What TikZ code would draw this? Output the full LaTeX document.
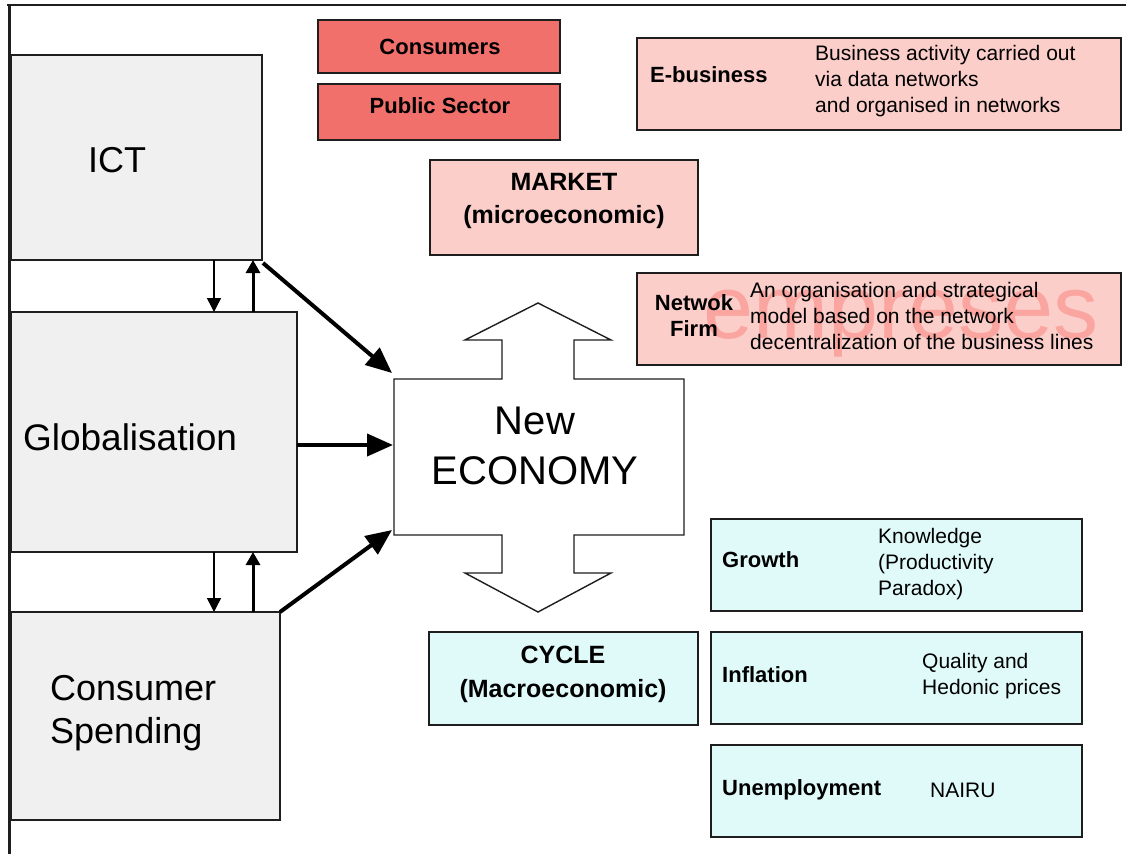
\documentclass[tikz,border=0pt]{standalone}
\usepackage{fontspec}
\setmainfont{Liberation Sans}
\usetikzlibrary{arrows.meta}
\definecolor{linec}{RGB}{30,30,30}
\definecolor{redfill}{RGB}{242,112,108}
\definecolor{pinkfill}{RGB}{251,206,202}
\definecolor{bluefill}{RGB}{224,250,250}
\definecolor{grayfill}{RGB}{240,240,240}
\definecolor{wmark}{RGB}{250,165,160}
\begin{document}
\begin{tikzpicture}[x=1pt,y=-1pt,
  box/.style={draw=linec, line width=1.4pt, inner sep=0pt, outer sep=0pt},
  bigtxt/.style={font=\fontsize{36}{43}\selectfont, inner sep=0pt, align=left},
  lab/.style={font=\fontsize{22}{26}\selectfont\bfseries, inner sep=0pt},
  midtxt/.style={font=\fontsize{25}{33}\selectfont\bfseries, inner sep=0pt, align=center},
  desc/.style={font=\fontsize{21}{26}\selectfont, inner sep=0pt, align=left},
  fat/.style={line width=4pt, -{Triangle[length=26pt,width=22pt]}},
  thinar/.style={line width=1.5pt, -{Triangle[length=14pt,width=14pt]}},
  upar/.style={line width=3pt, -{Triangle[length=13pt,width=14pt]}}
]
\useasboundingbox (0,0) rectangle (1126,854);
\fill[white] (0,0) rectangle (1126,854);
% frame
\draw[linec, line width=1.5pt] (7,5) -- (1126,5);
\draw[linec, line width=3pt] (9,4) -- (9,854);

% left column
\node[box, fill=grayfill, minimum width=251pt, minimum height=205pt] (ict) at (136.5,157.5) {};
\node[box, fill=grayfill, minimum width=286pt, minimum height=240pt] (glob) at (154,432) {};
\node[box, fill=grayfill, minimum width=269pt, minimum height=208pt] (cons) at (145.5,716) {};
\node[bigtxt] (ictt) at (117,160) {ICT};
\node[bigtxt, font=\fontsize{37}{43}\selectfont] (globt) at (130,437) {Globalisation};
\node[bigtxt, anchor=west] (const) at (50,713) {Consumer\\Spending};

% top red boxes
\node[box, fill=redfill, minimum width=242pt, minimum height=53pt] (consumers) at (439,46.5) {};
\node[box, fill=redfill, minimum width=242pt, minimum height=56pt] (public) at (439,112) {};
\node[lab] (consumerst) at (440,47) {Consumers};
\node[lab] (publict) at (440,106) {Public Sector};

% E-business
\node[box, fill=pinkfill, minimum width=484pt, minimum height=92pt] (ebiz) at (879,84) {};
\node[lab, anchor=west] (ebizt) at (650,75) {E-business};
\node[desc, anchor=west] (ebizd) at (815,81) {Business activity carried out\\via data networks\\and organised in networks};

% Market
\node[box, fill=pinkfill, minimum width=268pt, minimum height=95pt] (market) at (564,207.5) {};
\node[midtxt] (markett) at (564,201) {MARKET\\(microeconomic)};

% Network firm
\node[box, fill=pinkfill, minimum width=484pt, minimum height=92pt] (netf) at (879,319) {};
\node[font=\fontsize{90}{90}\selectfont, text=wmark, inner sep=0pt, anchor=base west] (wm) at (703,338) {empreses};
\node[lab, align=center] (netft) at (694,316) {Netwok\\Firm};
\node[desc, anchor=west] (netfd) at (750,316) {An organisation and strategical\\model based on the network\\decentralization of the business lines};

% New economy
\node[minimum width=290pt, minimum height=156pt, inner sep=0pt, outer sep=0pt] (ne) at (539,457) {};
\draw[linec, line width=1.4pt, line join=miter] (394,379) -- (502,379) -- (502,340) -- (465,340) -- (538,303) -- (611,340) -- (574,340) -- (574,379) -- (684,379) -- (684,535) -- (574,535) -- (574,573) -- (611,573) -- (538,612) -- (465,573) -- (502,573) -- (502,535) -- (394,535) -- cycle;
\node[font=\fontsize{40}{50}\selectfont, inner sep=0pt, align=center] (net) at (535,446) {New\\ECONOMY};

% Cycle
\node[box, fill=bluefill, minimum width=269pt, minimum height=93pt] (cycle) at (563.5,678.5) {};
\node[midtxt, font=\fontsize{25}{34}\selectfont\bfseries] (cyclet) at (563,674) {CYCLE\\(Macroeconomic)};

% right blue boxes
\node[box, fill=bluefill, minimum width=371pt, minimum height=92pt] (growth) at (896.5,565) {};
\node[box, fill=bluefill, minimum width=371pt, minimum height=92pt] (infl) at (896.5,678) {};
\node[box, fill=bluefill, minimum width=371pt, minimum height=92pt] (unemp) at (896.5,791) {};
\node[lab, anchor=west] (growtht) at (722,560) {Growth};
\node[desc, anchor=west] (growthd) at (878,564) {Knowledge\\(Productivity\\Paradox)};
\node[lab, anchor=west] (inflt) at (722,675) {Inflation};
\node[desc, anchor=west] (infld) at (922,676) {Quality and\\Hedonic prices};
\node[lab, anchor=west] (unempt) at (722,790) {Unemployment};
\node[desc, anchor=west] (unempd) at (930,790) {NAIRU};

% small arrows
\coordinate (dx) at (214,0);
\coordinate (ux) at (253,0);
\draw[thinar] (ict.south -| dx) -- (glob.north -| dx);
\draw[upar] (glob.north -| ux) -- (ict.south -| ux);
\draw[thinar] (glob.south -| dx) -- (cons.north -| dx);
\draw[upar] (cons.north -| ux) -- (glob.south -| ux);

% thick arrows
\draw[fat] ([shift={(1,3)}]ict.south east) -- ([shift={(-2,-6)}]ne.north west);
\draw[fat] ([shift={(0,13)}]glob.east) -- ([shift={(-1,-12)}]ne.west);
\draw[fat] ([shift={(0,0)}]cons.north east) -- ([shift={(-2,-5)}]ne.south west);
\end{tikzpicture}
\end{document}
